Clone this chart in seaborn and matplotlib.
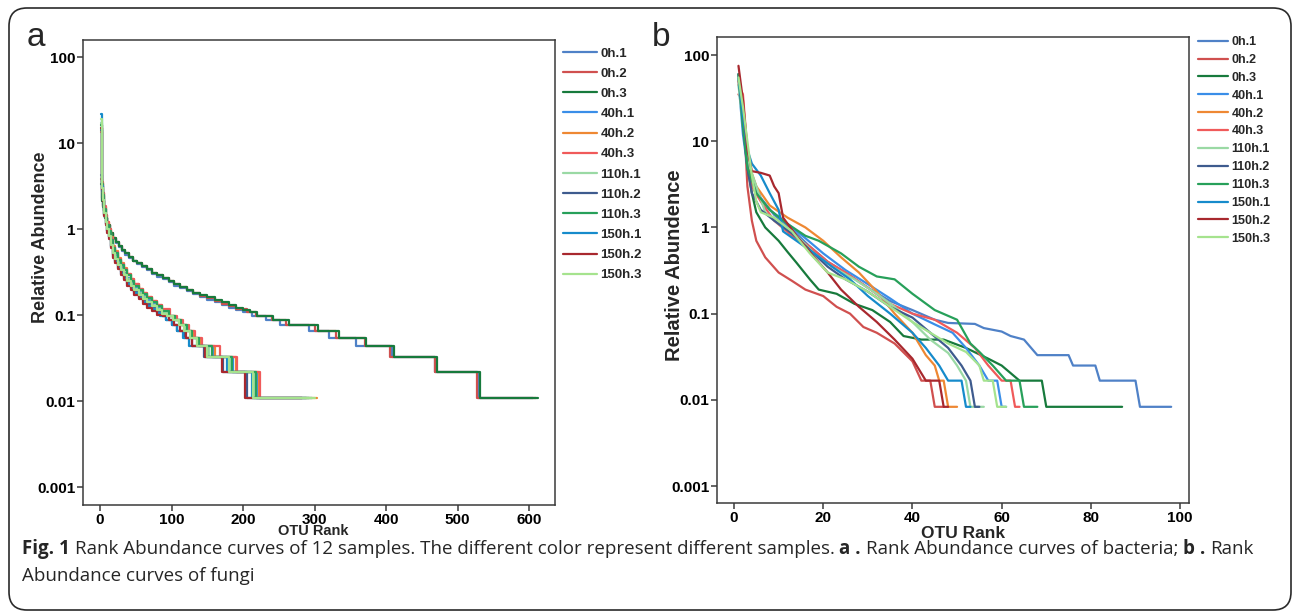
import numpy as np
import pandas as pd
import matplotlib
matplotlib.use("Agg")
import matplotlib.pyplot as plt
import matplotlib.transforms as mtransforms
from matplotlib.patches import FancyBboxPatch
import seaborn as sns

samples = ["0h.1", "0h.2", "0h.3", "40h.1", "40h.2", "40h.3",
           "110h.1", "110h.2", "110h.3", "150h.1", "150h.2", "150h.3"]
colors = ["#4f81c7", "#d0504f", "#177a3c", "#3a8ee8", "#ee8833", "#f05a5a",
          "#9ad9a4", "#3e5b8e", "#27a05a", "#168bcb", "#a8282e", "#a5e38e"]

# ---- panel a (bacteria): (rank, relative abundance) where each step starts
a_0h1 = [(1, 4.3), (2, 3.0), (3, 2.3), (4, 1.9), (5, 1.65), (7, 1.35), (10, 1.1), (14, 0.88), (18, 0.76),
         (22, 0.68), (26, 0.61), (30, 0.56), (35, 0.5), (40, 0.46), (46, 0.42), (52, 0.39), (58, 0.36),
         (65, 0.33), (72, 0.3), (80, 0.28), (88, 0.26), (96, 0.24), (104, 0.22), (112, 0.205), (121, 0.19),
         (130, 0.175), (140, 0.162), (150, 0.151), (160, 0.14), (170, 0.13), (180, 0.12), (190, 0.115),
         (200, 0.108), (212, 0.0972), (232, 0.0864), (252, 0.0756), (292, 0.0648), (320, 0.054),
         (358, 0.0432), (408, 0.0324), (468, 0.0216), (528, 0.0108), (606, 0.0108)]
a_0h2 = [(1, 3.8), (2, 2.8), (3, 2.2), (4, 1.85), (5, 1.6), (7, 1.35), (10, 1.12), (14, 0.9), (18, 0.78),
         (22, 0.7), (26, 0.63), (30, 0.57), (35, 0.52), (40, 0.47), (46, 0.43), (52, 0.4), (58, 0.37),
         (65, 0.34), (72, 0.31), (80, 0.29), (88, 0.27), (96, 0.25), (104, 0.23), (112, 0.212), (121, 0.196),
         (130, 0.18), (140, 0.168), (150, 0.157), (160, 0.146), (170, 0.136), (180, 0.127), (190, 0.119),
         (205, 0.108), (218, 0.0972), (240, 0.0864), (260, 0.0756), (300, 0.0648), (330, 0.054),
         (370, 0.0432), (405, 0.0324), (468, 0.0216), (527, 0.0108), (609, 0.0108)]
a_0h3 = [(1, 3.3), (2, 2.6), (3, 2.1), (4, 1.8), (5, 1.6), (7, 1.35), (10, 1.1), (14, 0.9), (18, 0.78),
         (22, 0.7), (26, 0.63), (30, 0.57), (35, 0.52), (40, 0.47), (46, 0.43), (52, 0.4), (58, 0.37),
         (65, 0.34), (72, 0.31), (80, 0.29), (88, 0.27), (96, 0.25), (104, 0.23), (112, 0.21), (121, 0.194),
         (130, 0.18), (140, 0.17), (150, 0.16), (160, 0.15), (170, 0.14), (180, 0.13), (190, 0.12),
         (200, 0.115), (210, 0.108), (220, 0.0972), (242, 0.0864), (264, 0.0756), (305, 0.0648),
         (334, 0.054), (372, 0.0432), (411, 0.0324), (471, 0.0216), (531, 0.0108), (612, 0.0108)]
a_40h1 = [(1, 15), (2, 6), (3, 3.2), (4, 2.4), (5, 2.0), (6, 1.7), (8, 1.35), (10, 1.1), (12, 0.9), (15, 0.72),
          (18, 0.58), (21, 0.5), (25, 0.42), (29, 0.36), (33, 0.31), (38, 0.27), (43, 0.24), (48, 0.21),
          (54, 0.185), (60, 0.165), (66, 0.148), (72, 0.134), (79, 0.12), (87, 0.108), (96, 0.0972),
          (104, 0.0864), (112, 0.0756), (120, 0.0648), (128, 0.054), (137, 0.0432), (158, 0.0324),
          (186, 0.0216), (220, 0.0108), (296, 0.0108)]
a_40h2 = [(1, 16), (2, 7), (3, 3.5), (4, 2.6), (5, 2.1), (6, 1.8), (8, 1.45), (10, 1.2), (12, 1.0), (15, 0.8),
          (18, 0.64), (21, 0.55), (25, 0.46), (29, 0.4), (33, 0.35), (38, 0.3), (43, 0.26), (48, 0.23),
          (54, 0.2), (60, 0.18), (66, 0.16), (72, 0.145), (79, 0.13), (87, 0.115), (97, 0.0972),
          (106, 0.0864), (114, 0.0756), (122, 0.0648), (131, 0.054), (140, 0.0432), (160, 0.0324),
          (190, 0.0216), (222, 0.0108), (303, 0.0108)]
a_40h3 = [(1, 13.5), (2, 6.5), (3, 3.4), (4, 2.6), (5, 2.2), (6, 1.85), (8, 1.45), (10, 1.2), (12, 1.0),
          (15, 0.78), (18, 0.62), (21, 0.54), (25, 0.45), (29, 0.39), (33, 0.34), (38, 0.3), (43, 0.26),
          (48, 0.23), (54, 0.2), (60, 0.18), (66, 0.16), (72, 0.145), (79, 0.13), (87, 0.118), (98, 0.0972),
          (108, 0.0864), (116, 0.0756), (124, 0.0648), (133, 0.054), (142, 0.0432), (168, 0.0324),
          (191, 0.0216), (224, 0.0108), (290, 0.0108)]
a_110h1 = [(1, 17), (2, 6), (3, 3.0), (4, 2.3), (5, 1.9), (6, 1.6), (8, 1.25), (10, 1.05), (12, 0.88),
           (15, 0.7), (18, 0.54), (21, 0.47), (25, 0.4), (29, 0.34), (33, 0.3), (38, 0.26), (43, 0.23),
           (48, 0.2), (54, 0.178), (60, 0.16), (66, 0.143), (72, 0.13), (79, 0.117), (87, 0.105),
           (95, 0.0972), (103, 0.0864), (111, 0.0756), (119, 0.0648), (127, 0.054), (136, 0.0432),
           (152, 0.0324), (182, 0.0216), (215, 0.0108), (296, 0.0108)]
a_110h2 = [(1, 14), (2, 5), (3, 2.8), (4, 2.1), (5, 1.7), (6, 1.45), (8, 1.15), (10, 0.95), (12, 0.8),
           (15, 0.63), (18, 0.5), (21, 0.43), (25, 0.37), (29, 0.32), (33, 0.28), (38, 0.24), (43, 0.21),
           (48, 0.185), (54, 0.165), (60, 0.148), (66, 0.133), (72, 0.12), (79, 0.108), (86, 0.0972),
           (92, 0.0864), (100, 0.0756), (108, 0.0648), (118, 0.054), (128, 0.0432), (145, 0.0324),
           (172, 0.0216), (205, 0.0108), (282, 0.0108)]
a_110h3 = [(1, 16), (2, 6.5), (3, 3.3), (4, 2.5), (5, 2.0), (6, 1.7), (8, 1.35), (10, 1.12), (12, 0.95),
           (15, 0.75), (18, 0.6), (21, 0.52), (25, 0.44), (29, 0.38), (33, 0.33), (38, 0.29), (43, 0.25),
           (48, 0.22), (54, 0.195), (60, 0.175), (66, 0.157), (72, 0.142), (79, 0.127), (87, 0.112),
           (96, 0.0972), (105, 0.0864), (113, 0.0756), (121, 0.0648), (129, 0.054), (138, 0.0432),
           (156, 0.0324), (184, 0.0216), (218, 0.0108), (292, 0.0108)]
a_150h1 = [(1, 22), (2, 7), (3, 3.2), (4, 2.2), (5, 1.8), (6, 1.5), (8, 1.15), (10, 0.95), (12, 0.8),
           (15, 0.62), (18, 0.47), (21, 0.41), (25, 0.35), (29, 0.3), (33, 0.26), (38, 0.23), (43, 0.2),
           (48, 0.178), (54, 0.158), (60, 0.142), (66, 0.128), (72, 0.116), (79, 0.105), (84, 0.0972),
           (92, 0.0864), (100, 0.0756), (108, 0.0648), (116, 0.054), (124, 0.0432), (150, 0.0324),
           (178, 0.0216), (212, 0.0108), (288, 0.0108)]
a_150h2 = [(1, 15), (2, 5.5), (3, 2.9), (4, 2.1), (5, 1.7), (6, 1.42), (8, 1.1), (10, 0.9), (12, 0.76),
           (15, 0.6), (18, 0.46), (21, 0.4), (25, 0.34), (29, 0.29), (33, 0.255), (38, 0.22), (43, 0.195),
           (48, 0.172), (54, 0.152), (60, 0.136), (66, 0.122), (72, 0.11), (80, 0.1), (88, 0.0972),
           (96, 0.0864), (104, 0.0756), (112, 0.0648), (120, 0.054), (128, 0.0432), (146, 0.0324),
           (170, 0.0216), (203, 0.0108), (283, 0.0108)]
a_150h3 = [(1, 19), (2, 6), (3, 3.0), (4, 2.2), (5, 1.8), (6, 1.55), (8, 1.2), (10, 1.0), (12, 0.84),
           (15, 0.66), (18, 0.52), (21, 0.45), (25, 0.38), (29, 0.33), (33, 0.29), (38, 0.25), (43, 0.22),
           (48, 0.195), (54, 0.172), (60, 0.155), (66, 0.14), (72, 0.127), (79, 0.114), (87, 0.104),
           (94, 0.0972), (102, 0.0864), (110, 0.0756), (118, 0.0648), (126, 0.054), (135, 0.0432),
           (150, 0.0324), (180, 0.0216), (214, 0.0108), (300, 0.0108)]

# ---- panel b (fungi): (rank, relative abundance) vertices
b_0h1 = [(1, 60), (2, 18), (3, 7), (4, 4), (6, 2.2), (9, 1.4), (13, 0.95), (17, 0.6), (21, 0.4), (25, 0.3),
         (30, 0.2), (35, 0.14), (40, 0.11), (45, 0.085), (48, 0.078), (54, 0.076), (56, 0.068), (60, 0.062),
         (62, 0.055), (65, 0.05), (68, 0.033), (75, 0.033), (76, 0.025), (81, 0.025), (82, 0.0167),
         (90, 0.0167), (91, 0.0083), (98, 0.0083)]
b_0h2 = [(1, 35), (2, 30), (3, 3), (4, 1.2), (5, 0.7), (7, 0.45), (10, 0.3), (13, 0.24), (16, 0.19),
         (20, 0.16), (23, 0.12), (26, 0.1), (29, 0.07), (32, 0.06), (36, 0.045), (40, 0.028), (42, 0.0167),
         (44, 0.0167), (45, 0.0083), (47, 0.0083)]
b_0h3 = [(1, 55), (2, 20), (3, 5), (4, 2.5), (5, 1.5), (7, 1.0), (10, 0.7), (12, 0.52), (14, 0.39), (17, 0.25),
         (19, 0.19), (23, 0.17), (27, 0.13), (31, 0.11), (35, 0.08), (38, 0.055), (42, 0.05), (47, 0.05),
         (52, 0.04), (57, 0.03), (60, 0.025), (64, 0.0167), (69, 0.0167), (70, 0.0083), (87, 0.0083)]
b_40h1 = [(1, 50), (2, 12), (3, 5), (5, 2.5), (8, 1.6), (12, 1.1), (16, 0.75), (20, 0.5), (25, 0.32),
          (30, 0.22), (35, 0.15), (40, 0.1), (45, 0.075), (49, 0.06), (52, 0.04), (55, 0.025), (57, 0.0167),
          (59, 0.0167), (60, 0.0083), (61, 0.0083)]
b_40h2 = [(1, 50), (2, 20), (3, 6), (5, 3), (8, 1.8), (12, 1.3), (16, 1.0), (20, 0.7), (24, 0.45), (28, 0.3),
          (32, 0.18), (36, 0.1), (40, 0.06), (43, 0.033), (45, 0.025), (46, 0.0167), (47, 0.0167),
          (48, 0.0083), (50, 0.0083)]
b_40h3 = [(1, 45), (2, 35), (3, 8), (4, 3), (6, 2), (9, 1.2), (13, 0.8), (17, 0.6), (21, 0.4), (25, 0.3),
          (30, 0.2), (35, 0.13), (40, 0.1), (45, 0.085), (50, 0.06), (54, 0.04), (57, 0.025), (60, 0.0167),
          (62, 0.0167), (63, 0.0083), (64, 0.0083)]
b_110h1 = [(1, 45), (2, 15), (3, 6), (5, 3), (7, 1.5), (10, 1.1), (14, 0.8), (18, 0.5), (22, 0.35),
           (27, 0.25), (32, 0.17), (36, 0.12), (40, 0.08), (44, 0.05), (48, 0.035), (50, 0.025),
           (52, 0.0167), (53, 0.0083), (56, 0.0083)]
b_110h2 = [(1, 60), (2, 15), (3, 5), (4, 2.5), (6, 1.6), (9, 1.2), (13, 0.85), (17, 0.55), (21, 0.35),
           (25, 0.25), (30, 0.18), (35, 0.12), (40, 0.09), (44, 0.06), (48, 0.04), (51, 0.025), (53, 0.0167),
           (54, 0.0083), (55, 0.0083)]
b_110h3 = [(1, 60), (2, 15), (3, 5), (5, 2.5), (8, 1.6), (12, 1.1), (16, 0.8), (19, 0.7), (24, 0.5),
           (28, 0.35), (32, 0.27), (36, 0.25), (40, 0.17), (45, 0.11), (50, 0.085), (53, 0.045), (55, 0.036),
           (58, 0.025), (61, 0.0167), (64, 0.0167), (65, 0.0083), (68, 0.0083)]
b_150h1 = [(1, 55), (2, 20), (3, 8), (4, 5.5), (6, 4), (8, 2.5), (10, 1.6), (11, 0.9), (14, 0.7), (18, 0.5),
           (22, 0.35), (26, 0.25), (30, 0.16), (35, 0.1), (40, 0.06), (43, 0.04), (46, 0.025), (48, 0.0167),
           (51, 0.0167), (52, 0.0083), (53, 0.0083)]
b_150h2 = [(1, 75), (2, 30), (3, 8), (4, 4.5), (6, 4.3), (8, 4), (9, 3), (10, 2.5), (11, 1.3), (14, 0.8),
           (18, 0.45), (21, 0.3), (24, 0.19), (28, 0.12), (32, 0.08), (36, 0.05), (40, 0.03), (43, 0.0167),
           (46, 0.0167), (47, 0.0083), (48, 0.0083)]
b_150h3 = [(1, 55), (2, 25), (3, 10), (4, 4), (5, 2), (6, 1.5), (9, 1.3), (13, 0.9), (17, 0.5), (21, 0.3),
           (25, 0.25), (30, 0.18), (35, 0.12), (40, 0.08), (44, 0.06), (48, 0.045), (52, 0.036), (55, 0.025),
           (56, 0.0167), (58, 0.0167), (59, 0.0083), (61, 0.0083)]

curves_a = [a_0h1, a_0h2, a_0h3, a_40h1, a_40h2, a_40h3, a_110h1, a_110h2, a_110h3, a_150h1, a_150h2, a_150h3]
curves_b = [b_0h1, b_0h2, b_0h3, b_40h1, b_40h2, b_40h3, b_110h1, b_110h2, b_110h3, b_150h1, b_150h2, b_150h3]


def long_df(curves):
    parts = []
    for s, pts in zip(samples, curves):
        d = pd.DataFrame(pts, columns=["rank", "value"])
        d["sample"] = s
        parts.append(d)
    return pd.concat(parts, ignore_index=True)


df_a = long_df(curves_a)
df_b = long_df(curves_b)

sns.set_theme(style="white")
plt.rcParams["font.family"] = ["Liberation Sans", "DejaVu Sans"]
plt.rcParams["font.weight"] = "bold"

palette = dict(zip(samples, colors))
frame_col = "#3a3a3a"
W, H = 1292, 616

fig = plt.figure(figsize=(12.92, 6.16), dpi=100)
ax_a = fig.add_axes([0.0642, 0.1802, 0.3653, 0.7549])
ax_b = fig.add_axes([0.5550, 0.1834, 0.3653, 0.7565])

sns.lineplot(data=df_a, x="rank", y="value", hue="sample", hue_order=samples,
             palette=palette, estimator=None, sort=False, drawstyle="steps-post",
             linewidth=1.6, ax=ax_a)
sns.lineplot(data=df_b, x="rank", y="value", hue="sample", hue_order=samples,
             palette=palette, estimator=None, sort=False,
             linewidth=1.6, ax=ax_b)

yt = [0.001, 0.01, 0.1, 1, 10, 100]
ytl = ["0.001", "0.01", "0.1", "1", "10", "100"]
for ax, xlim, xt, ylim in [(ax_a, (-24, 636), range(0, 601, 100), (10 ** -3.209, 10 ** 2.198)),
                           (ax_b, (-3.8, 102), range(0, 101, 20), (10 ** -3.197, 10 ** 2.209))]:
    ax.set_yscale("log")
    ax.set_xlim(*xlim)
    ax.set_ylim(*ylim)
    ax.set_xticks(list(xt))
    ax.set_yticks(yt)
    ax.set_yticklabels(ytl)
    ax.minorticks_off()
    for sp in ax.spines.values():
        sp.set_color(frame_col)
        sp.set_linewidth(1.1)
    ax.tick_params(axis="both", which="major", direction="out", length=4, width=1.1,
                   color=frame_col, pad=1.5, labelsize=11, labelcolor="black",
                   bottom=True, left=True)

ax_a.set_xlabel("OTU Rank", fontsize=10.5, fontweight="bold")
ax_a.set_ylabel("Relative Abundence", fontsize=13, fontweight="bold")
ax_a.xaxis.set_label_coords(0.487, -0.041)
ax_a.yaxis.set_label_coords(-0.072, 0.575)
ax_b.set_xlabel("OTU Rank", fontsize=12.5, fontweight="bold")
ax_b.set_ylabel("Relative Abundence", fontsize=14.5, fontweight="bold")
ax_b.xaxis.set_label_coords(0.521, -0.05)
ax_b.yaxis.set_label_coords(-0.07, 0.51)

sns.move_legend(ax_a, "upper left", bbox_to_anchor=(1.017, 0.984), frameon=False, title=None,
                prop={"weight": "bold", "size": 9.5}, handlelength=2.6, handletextpad=0.25,
                labelspacing=0.6, borderpad=0, borderaxespad=0)
sns.move_legend(ax_b, "upper left", bbox_to_anchor=(1.019, 1.002), frameon=False, title=None,
                prop={"weight": "bold", "size": 9}, handlelength=2.4, handletextpad=0.3,
                labelspacing=0.47, borderpad=0, borderaxespad=0)

fig.text(27 / W, 1 - 46 / H, "a", fontsize=24, fontweight="normal", ha="left", va="baseline")
fig.text(652 / W, 1 - 46 / H, "b", fontsize=24, fontweight="normal", ha="left", va="baseline")

# caption: bold and regular pieces laid out one after another
renderer = fig.canvas.get_renderer()
cap_size = 13.5


def piece_width(txt, weight):
    t = fig.text(0, 0, txt, fontsize=cap_size, family="Open Sans", fontweight=weight)
    w = t.get_window_extent(renderer).width
    t.remove()
    return w


space_w = piece_width("a a", "normal") - piece_width("aa", "normal")


def caption_line(x_px, y_px, pieces):
    x = x_px
    for txt, weight in pieces:
        t = fig.text(x / W, 1 - y_px / H, txt, fontsize=cap_size, family="Open Sans",
                     fontweight=weight, va="baseline")
        x += t.get_window_extent(renderer).width + space_w


caption_line(22, 554, [("Fig. 1", "bold"),
                       ("Rank Abundance curves of 12 samples. The different color represent different samples.", "normal"),
                       ("a .", "bold"), ("Rank Abundance curves of bacteria;", "normal"),
                       ("b .", "bold"), ("Rank", "normal")])
caption_line(22, 581, [("Abundance curves of fungi", "normal")])

border = FancyBboxPatch((9, 6), 1282, 602, boxstyle="round,pad=0,rounding_size=18",
                        transform=mtransforms.IdentityTransform(), fill=False,
                        edgecolor="#2a2a2a", linewidth=1.2)
fig.add_artist(border)

fig.savefig("out.png", dpi=100)
